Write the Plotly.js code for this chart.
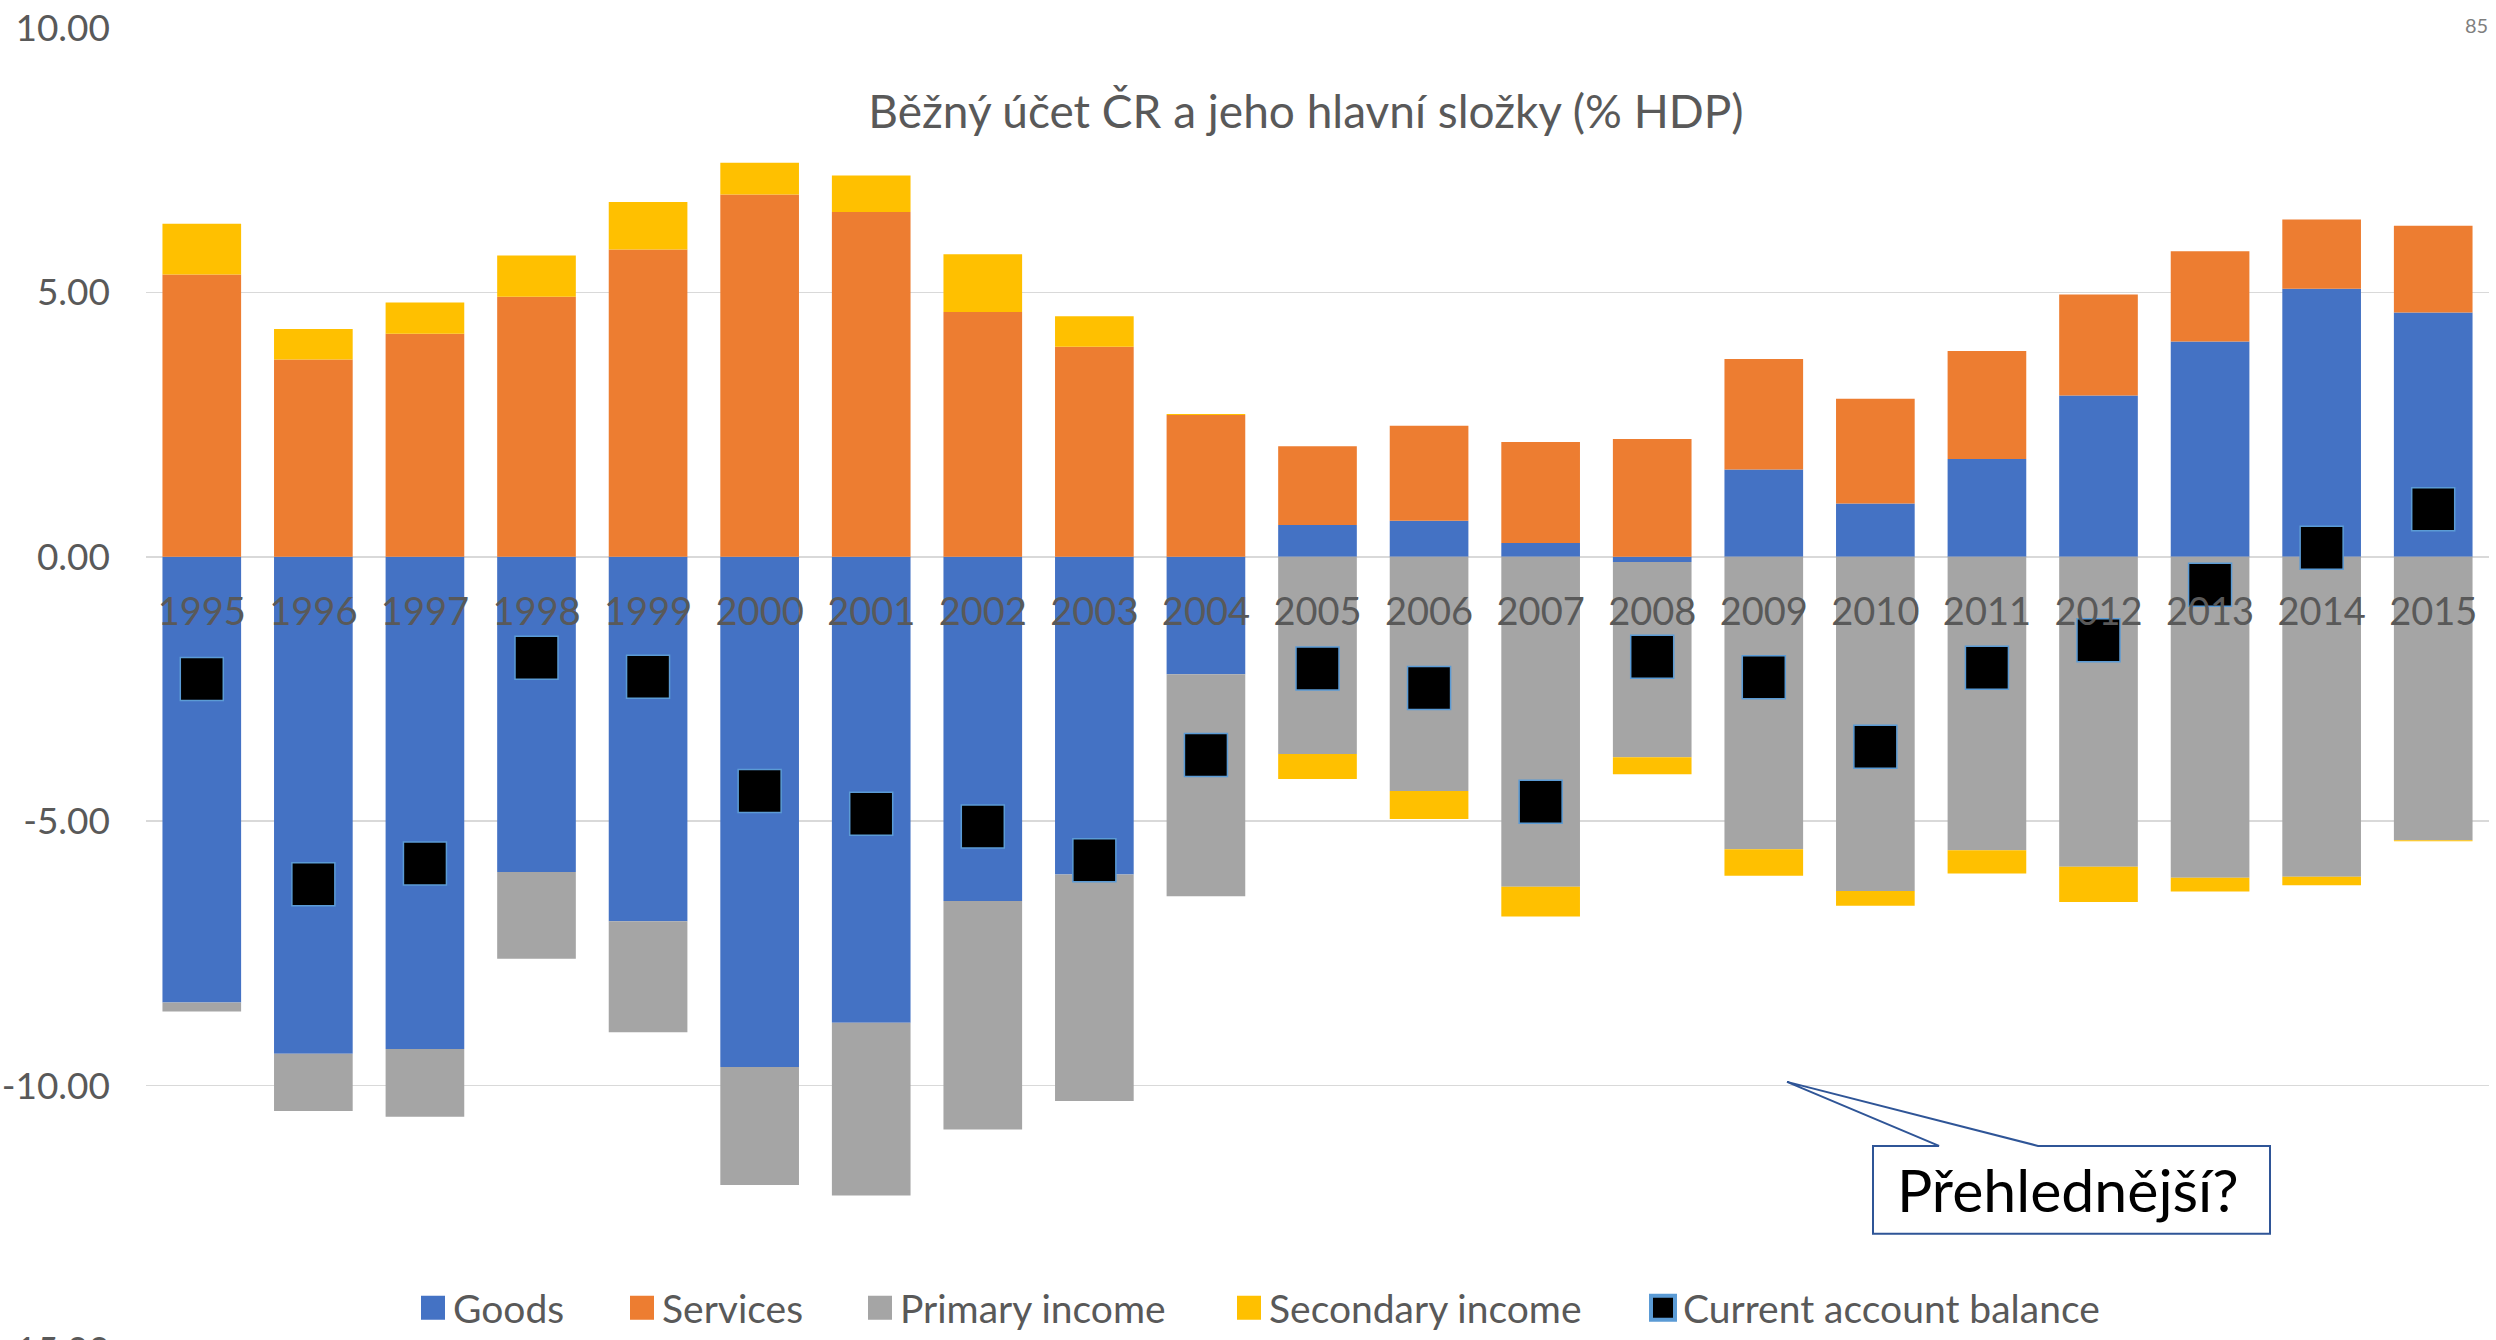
<!DOCTYPE html>
<html>
<head>
<meta charset="utf-8">
<script src="https://cdn.plot.ly/plotly-3.0.1.min.js"></script>
<style>
html, body { margin: 0; padding: 0; background: #fff; overflow: hidden; }
#chart { width: 2496px; height: 1400px; }
</style>
</head>
<body>
<div id="chart"></div>
<script>
// ---- data (% of GDP) ----
const years = ['1995','1996','1997','1998','1999','2000','2001','2002','2003','2004','2005',
               '2006','2007','2008','2009','2010','2011','2012','2013','2014','2015'];
const goods = [-8.43, -9.40, -9.31, -5.96, -6.89, -9.65, -8.81, -6.51, -6.01, -2.22, 0.60,
               0.68, 0.26, -0.10, 1.65, 1.01, 1.85, 3.05, 4.07, 5.07, 4.62];
const services = [5.34, 3.73, 4.22, 4.92, 5.81, 6.85, 6.52, 4.63, 3.97, 2.68, 1.49,
                  1.80, 1.91, 2.23, 2.09, 1.98, 2.04, 1.91, 1.71, 1.31, 1.64];
const primaryIncome = [-0.17, -1.08, -1.28, -1.64, -2.10, -2.23, -3.27, -4.32, -4.28, -4.20, -3.73,
                       -4.43, -6.24, -3.69, -5.53, -6.32, -5.55, -5.86, -6.07, -6.05, -5.36];
const secondaryIncome = [0.96, 0.58, 0.59, 0.78, 0.90, 0.60, 0.69, 1.09, 0.58, 0.02, -0.47,
                         -0.53, -0.56, -0.32, -0.50, -0.28, -0.44, -0.67, -0.26, -0.16, -0.02];
const balance = [-2.31, -6.19, -5.80, -1.91, -2.27, -4.43, -4.86, -5.10, -5.74, -3.75, -2.11,
                 -2.48, -4.63, -1.89, -2.28, -3.59, -2.10, -1.58, -0.53, 0.17, 0.90];
const seriesNames = ['Goods', 'Services', 'Primary income', 'Secondary income', 'Current account balance'];
const yTickVals = [-15, -10, -5, 0, 5, 10];
const yTickText = ['-15.00', '-10.00', '-5.00', '0.00', '5.00', '10.00'];
const titleText = 'Běžný účet ČR a jeho hlavní složky (% HDP)';
const calloutText = 'Přehlednější?';
const pageNumber = '85';

// ---- styling ----
const FONT = 'Lato, "Open Sans", sans-serif';
const GREY_TEXT = '#595959';
const colors = ['#4472C4', '#ED7D31', '#A5A5A5', '#FFC000'];

// pixel -> paper helpers (plot area: x 146..2489, y 27.7..1350.2)
const PL = 146, PW = 2343, PB = 1350.2, PH = 1322.5;
const px = v => (v - PL) / PW;
const py = v => (PB - v) / PH;

const barSeries = [goods, services, primaryIncome, secondaryIncome];
const legendIds = ['legend', 'legend2', 'legend3', 'legend4', 'legend5'];
const traces = barSeries.map((vals, i) => ({
  type: 'bar',
  name: seriesNames[i],
  x: years,
  y: vals,
  marker: { color: colors[i], line: { width: 0 } },
  legend: legendIds[i],
  hoverinfo: 'skip'
}));
traces.push({
  type: 'scatter',
  mode: 'markers',
  name: seriesNames[4],
  x: years,
  y: balance,
  marker: { symbol: 'square', size: 43, color: '#000000', line: { color: '#5B9BD5', width: 1.5 } },
  legend: legendIds[4],
  hoverinfo: 'skip'
});

const legendLefts = [413, 622, 860, 1229, 1643];
const legendBase = {
  orientation: 'h', xanchor: 'left', yanchor: 'middle', y: py(1308),
  font: { family: FONT, size: 39, color: GREY_TEXT },
  bgcolor: 'rgba(0,0,0,0)', borderwidth: 0, itemsizing: 'constant',
  itemclick: false, itemdoubleclick: false
};

const layout = {
  width: 2496, height: 1400,
  margin: { l: PL, r: 2496 - 2489, t: 28, b: 50, pad: 0 },
  paper_bgcolor: '#ffffff', plot_bgcolor: '#ffffff',
  barmode: 'relative', bargap: 0.295,
  showlegend: true,
  title: {
    text: titleText,
    font: { family: FONT, size: 46, color: GREY_TEXT },
    x: px(1306), xref: 'paper', xanchor: 'center',
    y: 1 - 112 / 1400, yref: 'container', yanchor: 'middle'
  },
  xaxis: {
    type: 'category',
    range: [-0.5, years.length - 0.5],
    anchor: 'free', position: 0.6,
    showgrid: false, zeroline: false, showline: false, ticks: '',
    tickfont: { family: FONT, size: 38, color: GREY_TEXT },
    ticklabelstandoff: 29,
    fixedrange: true
  },
  yaxis: {
    range: [-15, 10],
    tickvals: yTickVals, ticktext: yTickText,
    showgrid: true, gridcolor: '#D9D9D9', gridwidth: 1.5,
    zeroline: false, showline: false, ticks: '',
    tickfont: { family: FONT, size: 37, color: GREY_TEXT },
    ticklabelstandoff: 35,
    fixedrange: true
  },
  shapes: [{
    type: 'path', xref: 'paper', yref: 'paper', layer: 'above',
    path: `M${px(1873)},${py(1146)}L${px(1939)},${py(1146)}L${px(1787)},${py(1082)}L${px(2038)},${py(1146)}` +
          `L${px(2270)},${py(1146)}L${px(2270)},${py(1234)}L${px(1873)},${py(1234)}Z`,
    fillcolor: '#ffffff', line: { color: '#2F5597', width: 2 }
  }],
  annotations: [
    { text: calloutText, xref: 'paper', yref: 'paper', x: px(2068), y: py(1190),
      xanchor: 'center', yanchor: 'middle', showarrow: false,
      font: { family: FONT, size: 59, color: '#000000' } },
    { text: pageNumber, xref: 'paper', yref: 'paper', x: px(2476), y: py(25),
      xanchor: 'center', yanchor: 'middle', showarrow: false,
      font: { family: FONT, size: 20, color: '#7F7F7F' } }
  ]
};
legendIds.forEach((id, i) => {
  layout[id] = Object.assign({}, legendBase, { x: px(legendLefts[i]) });
});

Plotly.newPlot('chart', traces, layout, { displayModeBar: false, staticPlot: true }).then(() => {
  document.querySelectorAll('.legendpoints path').forEach(p => {
    const t = p.getAttribute('transform') || '';
    p.setAttribute('transform', t + ' scale(2)');
  });
});
</script>
</body>
</html>
